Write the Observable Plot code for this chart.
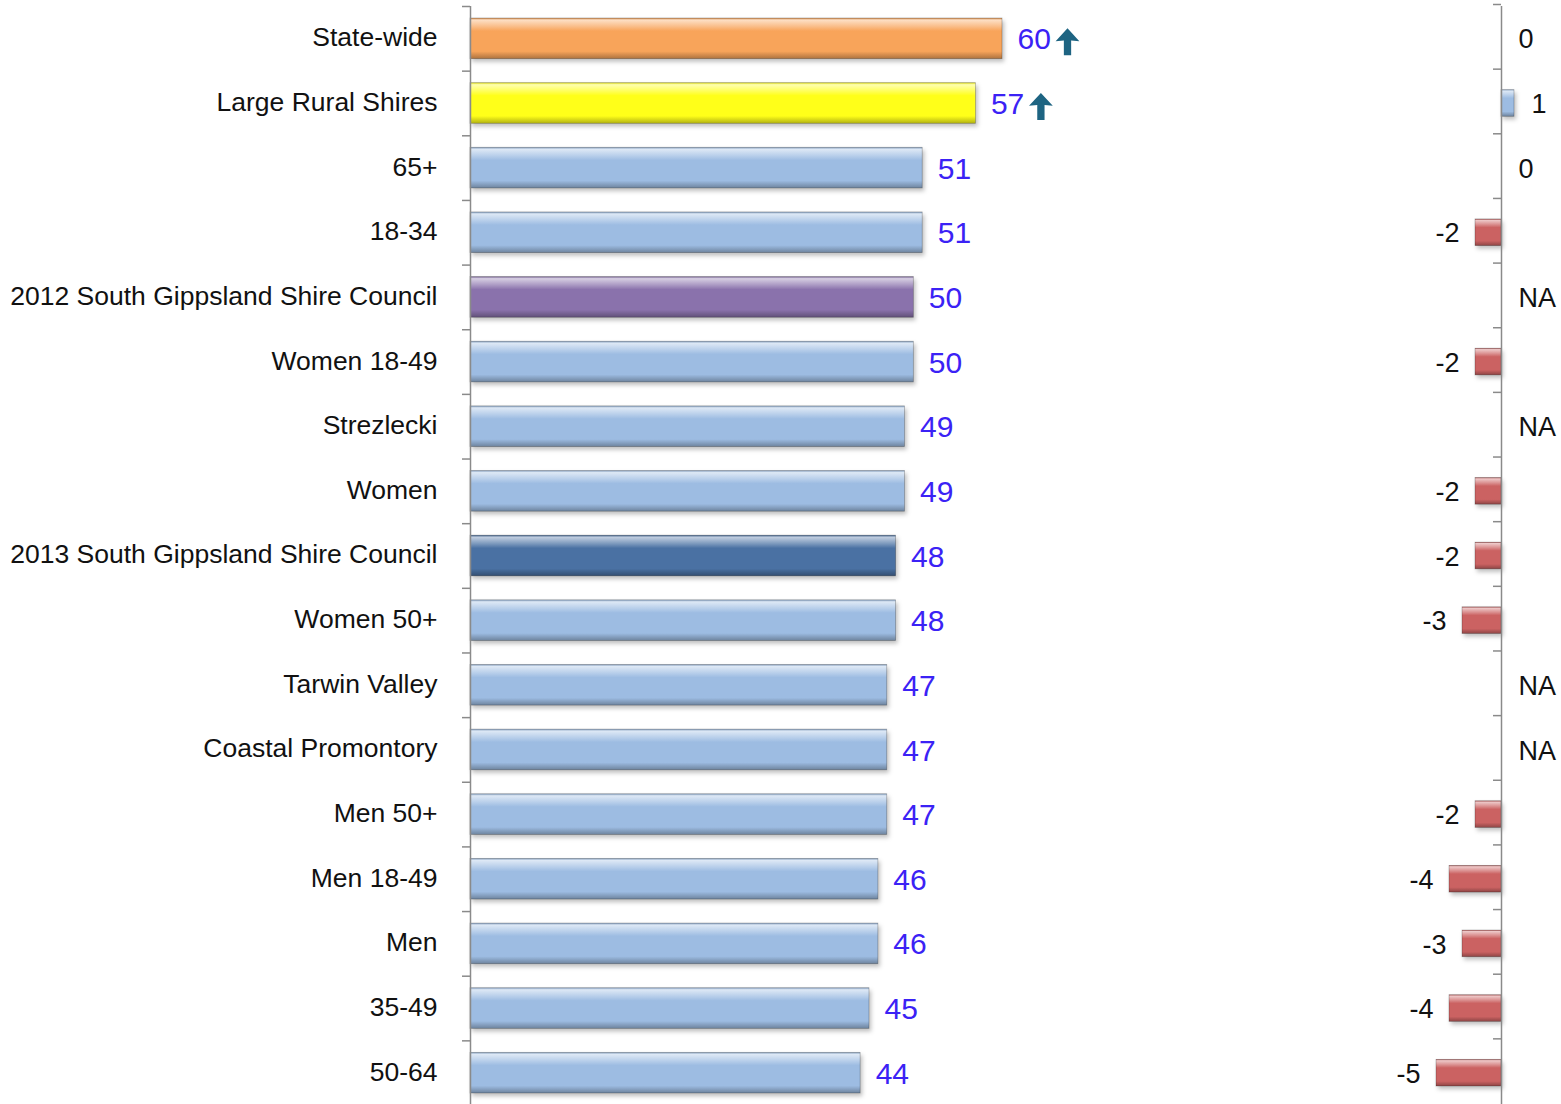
<!DOCTYPE html>
<html><head><meta charset="utf-8">
<script src="https://cdn.jsdelivr.net/npm/d3@7"></script>
<script src="https://cdn.jsdelivr.net/npm/@observablehq/plot@0.6"></script>
<style>
html,body{margin:0;padding:0;background:#fff;overflow:hidden}
#wrap{position:relative;width:1561px;height:1104px;overflow:hidden;font-family:"Liberation Sans",Arial,sans-serif}
#left,#right{position:absolute;top:0}
#left{left:0}
#right{left:1380px}
</style></head><body>
<svg width="0" height="0" style="position:absolute"><defs id="defs"></defs></svg>
<div id="wrap"><div id="left"></div><div id="right"></div></div>
<script>
const categories = ["State-wide","Large Rural Shires","65+","18-34","2012 South Gippsland Shire Council","Women 18-49","Strezlecki","Women","2013 South Gippsland Shire Council","Women 50+","Tarwin Valley","Coastal Promontory","Men 50+","Men 18-49","Men","35-49","50-64"];
const values = [60,57,51,51,50,50,49,49,48,48,47,47,47,46,46,45,44];
const groups = ["state","lrs","demo","demo","prev","demo","demo","demo","curr","demo","demo","demo","demo","demo","demo","demo","demo"];
const changes = [0,1,0,-2,null,-2,null,-2,-2,-3,null,null,-2,-4,-3,-4,-5];
const significantUp = [true,true,false,false,false,false,false,false,false,false,false,false,false,false,false,false,false];

const rows = categories.map((c,i)=>({category:c, value:values[i], group:groups[i], change:changes[i], sig:significantUp[i]}));

// bevel-like gradients
const palette = {state:"#f8a45a", lrs:"#ffff19", demo:"#9dbce2", prev:"#8a72ac", curr:"#4a71a3", up:"#9dbce2", down:"#cb6262"};
const defs = d3.select("#defs");
for (const [k,base] of Object.entries(palette)) {
  const c = d3.color(base);
  const g = defs.append("linearGradient").attr("id","g-"+k).attr("x1",0).attr("y1",0).attr("x2",0).attr("y2",1);
  const stops = [[0,c.darker(0.5)],[0.05,d3.interpolateRgb(base,"#fff")(0.65)],[0.2,d3.interpolateRgb(base,"#fff")(0.3)],[0.32,c],[0.82,c],[0.9,c.darker(0.4)],[1,c.darker(1)]];
  for (const [o,col] of stops) g.append("stop").attr("offset",o).attr("stop-color",col.toString());
}
const url = k => `url(#g-${k})`;

const H = 1105, MT = 6;
const step = (H - MT) / categories.length;
const FONT = '"Liberation Sans", Arial, sans-serif';

const arrowSymbol = {
  draw(ctx, size) {
    const r = Math.sqrt(size / Math.PI);
    const hw = 0.88 * r, sw = 0.27 * r, hb = -0.05 * r, notch = 0.05 * r;
    ctx.moveTo(0, -r);
    ctx.lineTo(hw, hb);
    ctx.lineTo(sw, hb - notch);
    ctx.lineTo(sw, r);
    ctx.lineTo(-sw, r);
    ctx.lineTo(-sw, hb - notch);
    ctx.lineTo(-hw, hb);
    ctx.closePath();
  }
};

const leftW = 1200, leftML = 470;
const pxPerUnit = 532 / 60;
const leftPlot = Plot.plot({
  width: leftW, height: H, marginLeft: leftML, marginRight: 0, marginTop: MT, marginBottom: 0,
  style: {fontFamily: FONT, background: "transparent", overflow: "visible"},
  x: {domain: [0, (leftW - leftML) / pxPerUnit], axis: null},
  y: {domain: categories, padding: 0, round: false, axis: null},
  color: {domain: Object.keys(palette), range: Object.keys(palette).map(url)},
  marks: [
    Plot.barX(rows, {x: "value", y: "category", fill: "group", insetTop: 12, insetBottom: 12, stroke: "rgba(0,0,0,0.28)", strokeWidth: 0.8}),
    Plot.ruleX([0], {stroke: "#8a8a8a", strokeWidth: 1.5}),
    Plot.ruleY(rows, {y: "category", x1: -8 / pxPerUnit, x2: 0, dy: -step / 2, stroke: "#8a8a8a", strokeWidth: 1.5}),
    Plot.text(rows, {x: 0, y: "category", text: "category", textAnchor: "end", dx: -33, dy: -1, fontSize: 26.5, fill: "#111"}),
    Plot.text(rows, {x: "value", y: "category", text: d => String(d.value), textAnchor: "start", dx: 15, dy: 1, fontSize: 30, fill: "#3b22f5"}),
    Plot.dot(rows.filter(d => d.sig), {x: "value", y: "category", dx: 65, dy: 3, r: 13.5, symbol: arrowSymbol, fill: "#1e6482", stroke: "none"})
  ]
});

const rightW = 181, zeroPx = 121, rPx = 13;
const rightPlot = Plot.plot({
  width: rightW, height: H, marginLeft: 0, marginRight: 0, marginTop: MT, marginBottom: 0,
  style: {fontFamily: FONT, background: "transparent", overflow: "visible"},
  x: {domain: [-zeroPx / rPx, (rightW - zeroPx) / rPx], axis: null},
  y: {domain: categories, padding: 0, round: false, axis: null},
  color: {domain: ["up","down"], range: [url("up"), url("down")]},
  marks: [
    Plot.barX(rows.filter(d => d.change != null && d.change !== 0), {x: "change", y: "category", fill: d => d.change > 0 ? "up" : "down", insetTop: 19, insetBottom: 19, stroke: "rgba(0,0,0,0.28)", strokeWidth: 0.8}),
    Plot.ruleX([0], {stroke: "#8a8a8a", strokeWidth: 1.5}),
    Plot.ruleY(rows, {y: "category", x1: -8 / rPx, x2: 0, dy: -step / 2 - 2, stroke: "#8a8a8a", strokeWidth: 1.5}),
    Plot.text(rows.filter(d => d.change != null && d.change < 0), {x: "change", y: "category", text: d => String(d.change), textAnchor: "end", dx: -16, dy: 1, fontSize: 27, fill: "#111"}),
    Plot.text(rows.filter(d => d.change == null || d.change >= 0), {x: d => Math.max(d.change ?? 0, 0), y: "category", text: d => d.change == null ? "NA" : String(d.change), textAnchor: "start", dx: 17, dy: 1, fontSize: 27, fill: "#111"})
  ]
});

document.getElementById("left").appendChild(leftPlot);
document.getElementById("right").appendChild(rightPlot);
for (const svg of [leftPlot, rightPlot]) {
  d3.select(svg).selectAll('g[aria-label="bar"]').style("filter", "drop-shadow(2px 3px 2px rgba(0,0,0,0.25))");
}
</script>
</body></html>
